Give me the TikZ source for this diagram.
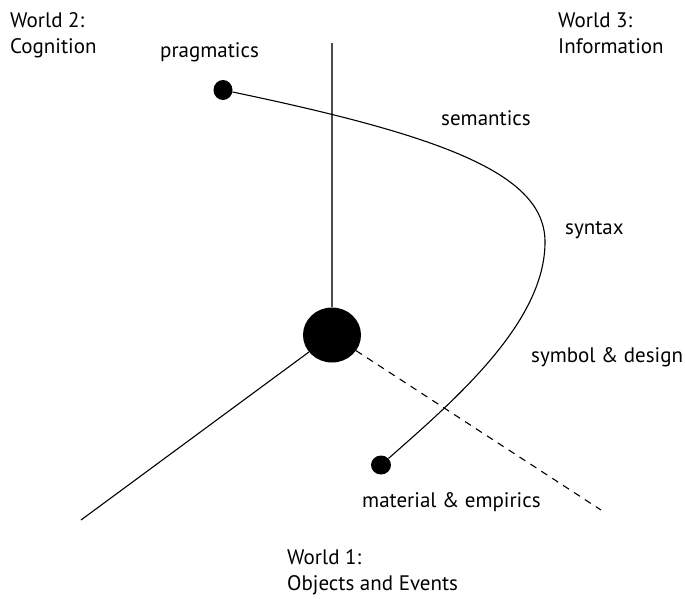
\documentclass[tikz,border=0pt]{standalone}
\usepackage{fontspec}
\setmainfont{PT Sans}
\usetikzlibrary{shapes}

\begin{document}
\begin{tikzpicture}[x=1pt,y=-1pt,
 lbl/.style={anchor=base west,inner sep=0pt,font=\fontsize{21}{26}\selectfont,align=left},
 dot/.style={ellipse,fill,inner sep=0pt},
 axis/.style={line width=1.1pt}]
\useasboundingbox (0,0) rectangle (685,598);
\node[dot,minimum width=58pt,minimum height=55pt](hub) at (332,335){};
\node[dot,minimum width=19pt,minimum height=20pt](prag) at (223,90){};
\node[dot,minimum width=20pt,minimum height=19pt](mat) at (381,465){};
\coordinate (top) at (332,43);
\coordinate (w1end) at (81,520);
\coordinate (dend) at (601,510);
\coordinate (syn) at (545,242);
\draw[line width=1.6pt,black!70](top)--(hub);
\draw[axis](hub)--(w1end);
\draw[axis,dash pattern=on 7pt off 6pt](hub)--(dend);
\draw[axis](prag)..controls(448,137)and(545,175)..(syn)
 ..controls(545,322)and(456,399)..(mat);
\node[lbl](w2) at (10,53){World 2:\\Cognition};
\node[lbl](w3) at (558,53){World 3:\\Information};
\node[lbl](w1) at (287,590){World 1:\\Objects and Events};
\node[lbl](lprag) at (160,57){pragmatics};
\node[lbl](lsem) at (441,125){semantics};
\node[lbl](lsyn) at (565,234){syntax};
\node[lbl](lsym) at (531,362){symbol \& design};
\node[lbl](lmat) at (362,507){material \& empirics};
\end{tikzpicture}
\end{document}
